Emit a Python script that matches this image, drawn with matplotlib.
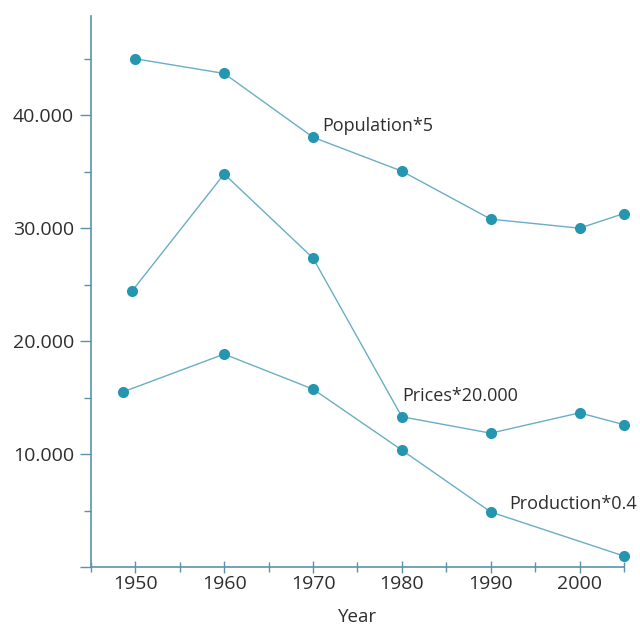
import matplotlib
matplotlib.use("Agg")
import matplotlib.pyplot as plt
from matplotlib.ticker import FuncFormatter, MultipleLocator

plt.rcParams['font.family'] = ['Open Sans', 'DejaVu Sans']

# data
pop_years = [1950, 1960, 1970, 1980, 1990, 2000, 2005]
population = [45000, 43700, 38050, 35050, 30800, 30000, 31300]

price_years = [1949.6, 1960, 1970, 1980, 1990, 2000, 2005]
prices = [24400, 34800, 27350, 13300, 11850, 13650, 12600]

prod_years = [1948.6, 1960, 1970, 1980, 1990, 2005]
production = [15500, 18850, 15750, 10350, 4870, 970]

labels = ["Population*5", "Prices*20.000", "Production*0.4"]

axis_col = '#5b93a8'
line_col = '#6aaec4'
dot_col = '#2596b0'
text_col = '#2e2e2e'

fig = plt.figure(figsize=(6.4, 6.27), dpi=100)
ax = fig.add_axes([0.142, 0.0957, 0.833, 0.879])

series = [(pop_years, population), (price_years, prices), (prod_years, production)]
for xs, ys in series:
    ax.plot(xs, ys, color=line_col, lw=1.0, zorder=2, clip_on=False)
    ax.plot(xs, ys, 'o', color=dot_col, ms=8, mec='none', zorder=3, clip_on=False)

# series labels, placed next to a point of each line
ax.annotate(labels[0], (pop_years[2], population[2]), xytext=(7, 8),
            textcoords='offset points', va='center', ha='left', fontsize=13, color=text_col)
ax.annotate(labels[1], (price_years[3], prices[3]), xytext=(0, 15),
            textcoords='offset points', va='center', ha='left', fontsize=13, color=text_col)
ax.annotate(labels[2], (prod_years[4], production[4]), xytext=(13, 6),
            textcoords='offset points', va='center', ha='left', fontsize=13, color=text_col)

ax.set_xlim(1945, 2005)
ax.set_ylim(0, 48800)

ax.set_xticks([1950, 1960, 1970, 1980, 1990, 2000])
ax.xaxis.set_minor_locator(MultipleLocator(10, offset=5))
ax.yaxis.set_major_locator(MultipleLocator(10000))
ax.yaxis.set_minor_locator(MultipleLocator(5000))


def fmt(v, pos):
    if v == 0:
        return ''
    return '{:,.0f}'.format(v).replace(',', '.')


ax.yaxis.set_major_formatter(FuncFormatter(fmt))

for side in ['top', 'right']:
    ax.spines[side].set_visible(False)
for side in ['left', 'bottom']:
    ax.spines[side].set_color(axis_col)
    ax.spines[side].set_linewidth(1.2)

ax.tick_params(which='major', length=8, width=1, color=axis_col, labelcolor=text_col,
               labelsize=14, pad=4)
ax.tick_params(which='minor', length=5, width=1, color=axis_col)
ax.tick_params(axis='x', which='both', direction='inout')
ax.tick_params(axis='x', which='major', length=9, pad=1)
ax.tick_params(axis='x', which='minor', length=7)

ax.set_xlabel('Year', fontsize=13.5, color=text_col, labelpad=11)

fig.savefig('out.png', dpi=100)
